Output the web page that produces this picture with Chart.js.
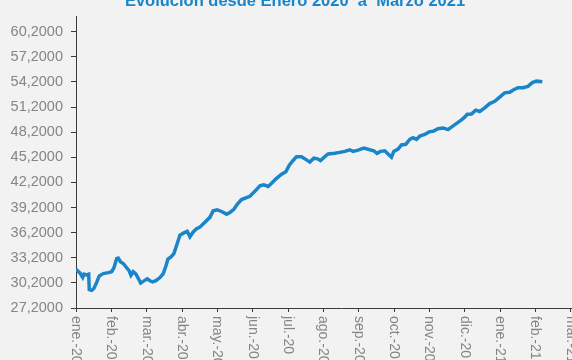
<!DOCTYPE html>
<html lang="es">
<head>
<meta charset="utf-8">
<script src="https://cdn.jsdelivr.net/npm/chart.js@4.4.1/dist/chart.umd.min.js"></script>
<style>
  html, body { margin: 0; padding: 0; background: #f2f2f2; }
  #marco { position: relative; width: 572px; height: 360px; overflow: hidden; background: #f2f2f2; }
  #titulo {
    position: absolute; top: -8.5px; left: 0; width: 590px;
    text-align: center; font: bold 16.5px "Liberation Sans", Arial, sans-serif;
    line-height: 16.5px; color: #1a85c9; z-index: 2;
  }
  canvas { position: absolute; top: 0; left: 0; }
</style>
</head>
<body>
<div id="marco">
  <div id="titulo">Evolución desde Enero 2020&nbsp; a&nbsp; Marzo 2021</div>
  <canvas id="grafico" width="620" height="360"></canvas>
</div>
<script>
// Etiquetas de meses del eje X (una por cada marca)
const meses = ["ene.-20", "feb.-20", "mar.-20", "abr.-20", "may.-20", "jun.-20", "jul.-20",
  "ago.-20", "sep.-20", "oct.-20", "nov.-20", "dic.-20", "ene.-21", "feb.-21", "mar.-21"];

// Marcas del eje Y
const ticksY = [27.2, 30.2, 33.2, 36.2, 39.2, 42.2, 45.2, 48.2, 51.2, 54.2, 57.2, 60.2];

// Tiempo de cada observación, en meses desde ene.-20
const tiempo = [0, 0.113, 0.189, 0.226, 0.303, 0.359, 0.376, 0.444, 0.509, 0.585, 0.659, 0.772,
  0.913, 1.010, 1.075, 1.151, 1.196, 1.264, 1.338, 1.434, 1.507, 1.555, 1.620, 1.697, 1.773,
  1.830, 1.903, 2.016, 2.093, 2.169, 2.262, 2.376, 2.469, 2.545, 2.602, 2.687, 2.771, 2.865,
  2.941, 3.054, 3.148, 3.224, 3.317, 3.413, 3.507, 3.648, 3.790, 3.883, 3.996, 4.120, 4.262,
  4.355, 4.468, 4.562, 4.686, 4.808, 4.921, 5.062, 5.204, 5.317, 5.438, 5.535, 5.676, 5.817,
  5.939, 6.032, 6.145, 6.241, 6.383, 6.524, 6.618, 6.731, 6.835, 6.920, 7.042, 7.135, 7.325,
  7.466, 7.607, 7.749, 7.842, 7.984, 8.145, 8.314, 8.428, 8.521, 8.617, 8.739, 8.832, 8.928,
  8.993, 9.115, 9.211, 9.333, 9.446, 9.539, 9.635, 9.729, 9.870, 9.992, 10.105, 10.246,
  10.388, 10.529, 10.653, 10.783, 10.908, 11.001, 11.072, 11.191, 11.312, 11.425, 11.567,
  11.708, 11.850, 11.991, 12.132, 12.274, 12.387, 12.509, 12.650, 12.791, 12.915, 13.029, 13.198];

// Valor del índice en cada observación
const valores = [31.82, 31.36, 30.85, 31.24, 31.16, 31.24, 29.38, 29.30, 29.56, 30.26, 31.04, 31.31,
  31.43, 31.54, 32.01, 33.10, 33.17, 32.71, 32.52, 32.01, 31.62, 31.12, 31.54, 31.24, 30.66,
  30.19, 30.38, 30.69, 30.46, 30.31, 30.46, 30.84, 31.31, 32.21, 33.05, 33.30, 33.70, 34.90,
  35.90, 36.17, 36.36, 35.70, 36.28, 36.67, 36.86, 37.45, 38.03, 38.81, 38.93, 38.73, 38.41,
  38.61, 38.99, 39.58, 40.16, 40.36, 40.55, 41.14, 41.79, 41.91, 41.72, 42.10, 42.69, 43.19,
  43.47, 44.24, 44.82, 45.28, 45.28, 44.90, 44.63, 45.10, 45.02, 44.82, 45.28, 45.60, 45.68,
  45.79, 45.91, 46.10, 45.91, 46.06, 46.30, 46.10, 45.98, 45.68, 45.91, 45.98, 45.60, 45.21,
  45.91, 46.18, 46.68, 46.76, 47.34, 47.54, 47.34, 47.73, 47.93, 48.24, 48.31, 48.62,
  48.71, 48.51, 48.89, 49.29, 49.67, 50.00, 50.34, 50.37, 50.84, 50.68, 51.11,
  51.62, 51.89, 52.39, 52.90, 52.97, 53.28, 53.52, 53.52, 53.67, 54.13, 54.30, 54.22];

const AZUL = "#1a85c9";
const GRIS_TEXTO = "#858585";
const EJE = "#3a3a3a";

// Etiquetas del eje X giradas 90 grados (se leen de arriba hacia abajo)
const etiquetasX = {
  id: "etiquetasX",
  afterDraw(chart) {
    const { ctx } = chart;
    const x = chart.scales.x;
    ctx.save();
    ctx.font = '14px "Liberation Sans", Arial, sans-serif';
    ctx.fillStyle = GRIS_TEXTO;
    ctx.textAlign = "left";
    ctx.textBaseline = "middle";
    meses.forEach((mes, i) => {
      ctx.save();
      ctx.translate(x.getPixelForValue(i), x.top + 8);
      ctx.rotate(Math.PI / 2);
      ctx.fillText(mes, 0, 0);
      ctx.restore();
    });
    ctx.restore();
  }
};

new Chart(document.getElementById("grafico"), {
  type: "line",
  data: {
    datasets: [{
      data: tiempo.map((t, i) => ({ x: t, y: valores[i] })),
      borderColor: AZUL,
      borderWidth: 3.5,
      pointRadius: 0,
      tension: 0,
      fill: false
    }]
  },
  options: {
    responsive: false,
    animation: false,
    layout: { padding: { top: 9, right: 14, left: 0, bottom: 0 } },
    plugins: {
      legend: { display: false },
      tooltip: { enabled: false }
    },
    scales: {
      x: {
        type: "linear",
        min: 0,
        max: 15,
        afterBuildTicks: (scale) => { scale.ticks = meses.map((m, i) => ({ value: i })); },
        afterFit: (scale) => { scale.height = 52; },
        ticks: { display: false },
        grid: { drawOnChartArea: false, drawTicks: true, tickLength: 4, color: EJE },
        border: { display: true, color: EJE, width: 1 }
      },
      y: {
        min: 27.2,
        max: 62.0,
        afterBuildTicks: (scale) => { scale.ticks = ticksY.map(v => ({ value: v })); },
        afterFit: (scale) => { scale.width = 76; },
        ticks: {
          color: GRIS_TEXTO,
          padding: 8,
          font: { family: '"Liberation Sans", Arial, sans-serif', size: 14.5 },
          callback: (v) => Number(v).toFixed(4).replace(".", ",")
        },
        grid: { drawOnChartArea: false, drawTicks: true, tickLength: 5, color: EJE },
        border: { display: true, color: EJE, width: 1 }
      }
    }
  },
  plugins: [etiquetasX]
});
</script>
</body>
</html>
